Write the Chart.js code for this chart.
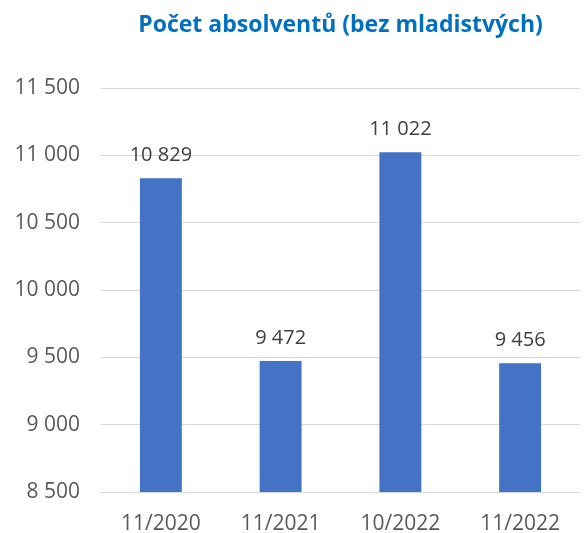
<!DOCTYPE html>
<html>
<head>
<meta charset="utf-8">
<script src="https://cdn.jsdelivr.net/npm/chart.js@4"></script>
<style>
  body { margin: 0; background: #fff; }
  #wrap { width: 584px; height: 533px; }
</style>
</head>
<body>
<div id="wrap"><canvas id="myChart" width="584" height="533"></canvas></div>
<script>
// chart data
const chartTitle = 'Počet absolventů (bez mladistvých)';
const categories = ['11/2020', '11/2021', '10/2022', '11/2022'];
const graduates = [10829, 9472, 11022, 9456];
const yMin = 8500;
const yMax = 11500;
const yStep = 500;

const fontFamily = '"Open Sans", "Noto Sans", sans-serif';

function formatNumber(v) {
  return String(v).replace(/\B(?=(\d{3})+(?!\d))/g, ' ');
}

//draws value above each bar + the title over the plot area
const labelsPlugin = {
  id: 'barLabels',
  afterDatasetsDraw(chart) {
    const ctx = chart.ctx;
    const meta = chart.getDatasetMeta(0);
    ctx.save();
    ctx.font = '20px ' + fontFamily;
    ctx.fillStyle = '#404040';
    ctx.textAlign = 'center';
    ctx.textBaseline = 'alphabetic';
    meta.data.forEach(function (bar, i) {
      ctx.fillText(formatNumber(graduates[i]), bar.x, bar.y - 17);
    });

    const area = chart.chartArea;
    ctx.font = 'bold 23px ' + fontFamily;
    ctx.fillStyle = '#0070C0';
    ctx.textBaseline = 'middle';
    ctx.fillText(chartTitle, (area.left + area.right) / 2, 25);
    ctx.restore();
  }
};

new Chart(document.getElementById('myChart').getContext('2d'), {
  type: 'bar',
  data: {
    labels: categories,
    datasets: [{
      data: graduates,
      backgroundColor: '#4472C4',
      categoryPercentage: 1,
      barPercentage: 0.35
    }]
  },
  options: {
    responsive: false,
    animation: false,
    layout: { padding: { top: 88, left: 12, right: 4, bottom: 0 } },
    plugins: {
      legend: { display: false },
      tooltip: { enabled: false },
      title: { display: false }
    },
    scales: {
      x: {
        afterFit(scale) { scale.height = 41; },
        grid: { display: false, drawTicks: false },
        border: { display: false },
        ticks: {
          color: '#595959',
          padding: 19,
          font: { family: fontFamily, size: 21 }
        }
      },
      y: {
        min: yMin,
        max: yMax,
        afterFit(scale) { scale.width = 89; },
        grid: { color: '#d9d9d9', drawTicks: false, lineWidth: 1 },
        border: { display: false },
        ticks: {
          stepSize: yStep,
          color: '#595959',
          padding: 21,
          font: { family: fontFamily, size: 21 },
          callback: function (v) { return formatNumber(v); }
        }
      }
    }
  },
  plugins: [labelsPlugin]
});
</script>
</body>
</html>
